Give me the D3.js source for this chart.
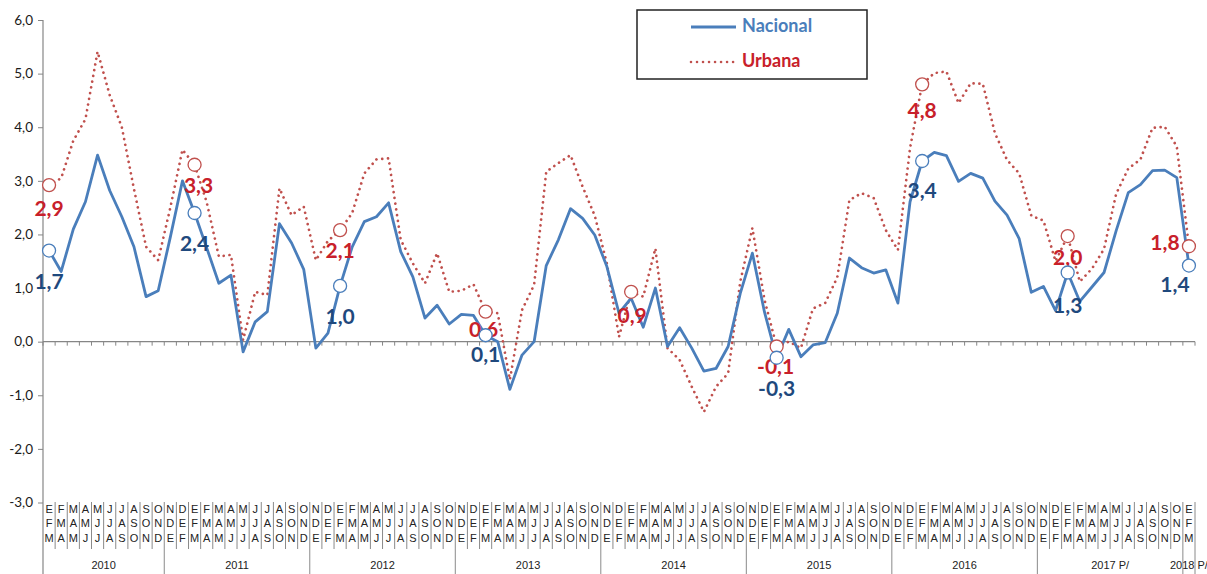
<!DOCTYPE html>
<html>
<head>
<meta charset="utf-8">
<script src="https://cdn.jsdelivr.net/npm/d3@7"></script>
<style>
  body { margin: 0; background: #fff; }
  svg { display: block; }
</style>
</head>
<body>
<svg id="chart" width="1207" height="574"></svg>
<script>
// moving quarters, one column each (2010 starts at EFM, 2018 P/ has EFM only)
var categories = [
  "EFM","FMA","MAM","AMJ","MJJ","JJA","JAS","ASO","SON","OND",
  "NDE","DEF","EFM","FMA","MAM","AMJ","MJJ","JJA","JAS","ASO","SON","OND",
  "NDE","DEF","EFM","FMA","MAM","AMJ","MJJ","JJA","JAS","ASO","SON","OND",
  "NDE","DEF","EFM","FMA","MAM","AMJ","MJJ","JJA","JAS","ASO","SON","OND",
  "NDE","DEF","EFM","FMA","MAM","AMJ","MJJ","JJA","JAS","ASO","SON","OND",
  "NDE","DEF","EFM","FMA","MAM","AMJ","MJJ","JJA","JAS","ASO","SON","OND",
  "NDE","DEF","EFM","FMA","MAM","AMJ","MJJ","JJA","JAS","ASO","SON","OND",
  "NDE","DEF","EFM","FMA","MAM","AMJ","MJJ","JJA","JAS","ASO","SON","OND",
  "EFM"
];
var years = ["2010", "2011", "2012", "2013", "2014", "2015", "2016", "2017 P/", "2018 P/"];
var yearSizes = [10, 12, 12, 12, 12, 12, 12, 12, 1];

var nacional = [
  1.70, 1.31, 2.10, 2.61, 3.48, 2.82, 2.33, 1.77, 0.84, 0.95,
  1.95, 3.00, 2.40, 1.75, 1.09, 1.24, -0.19, 0.37, 0.56, 2.20, 1.84, 1.35,
  -0.12, 0.16, 1.04, 1.77, 2.24, 2.33, 2.59, 1.68, 1.21, 0.44, 0.68, 0.33,
  0.51, 0.49, 0.12, 0.00, -0.89, -0.25, 0.00, 1.42, 1.90, 2.48, 2.30, 1.99,
  1.40, 0.53, 0.81, 0.27, 1.00, -0.09, 0.26, -0.12, -0.55, -0.50, -0.09, 0.90,
  1.65, 0.55, -0.30, 0.23, -0.28, -0.06, -0.02, 0.53, 1.56, 1.38, 1.28, 1.34,
  0.72, 2.61, 3.37, 3.53, 3.47, 2.99, 3.14, 3.05, 2.62, 2.36, 1.92, 0.92,
  1.03, 0.58, 1.29, 0.75, 1.02, 1.29, 2.07, 2.78, 2.93, 3.19, 3.20, 3.06,
  1.42
];
var urbana = [
  2.92, 3.05, 3.75, 4.15, 5.41, 4.60, 4.00, 2.85, 1.77, 1.52,
  2.50, 3.58, 3.30, 2.60, 1.59, 1.62, 0.03, 0.93, 0.87, 2.86, 2.36, 2.52,
  1.52, 1.88, 2.08, 2.40, 3.14, 3.40, 3.42, 1.90, 1.46, 1.09, 1.65, 0.93,
  0.95, 1.07, 0.56, 0.53, -0.71, 0.59, 1.06, 3.17, 3.33, 3.48, 2.89, 2.35,
  1.46, 0.09, 0.93, 0.84, 1.74, -0.12, -0.34, -0.84, -1.31, -0.84, -0.59, 1.12,
  2.12, 0.78, -0.09, 0.00, -0.12, 0.62, 0.72, 1.20, 2.64, 2.77, 2.68, 2.08,
  1.71, 3.61, 4.80, 5.01, 5.04, 4.45, 4.82, 4.81, 3.89, 3.39, 3.14, 2.35,
  2.26, 1.50, 1.97, 1.12, 1.36, 1.73, 2.76, 3.23, 3.40, 3.99, 4.01, 3.64,
  1.78
];
// columns that carry a circle and a value label
var nacionalMarks = [0, 12, 24, 36, 60, 72, 84, 94];
var urbanaMarks = [0, 12, 24, 36, 48, 60, 72, 84, 94];
var yTicks = [-3, -2, -1, 0, 1, 2, 3, 4, 5, 6];
var seriesNames = ["Nacional", "Urbana"];

var blue = "#4a7ebb", red = "#c0504d";
var blueText = "#1f497d", redText = "#c8202a";
// decimal comma and a plain hyphen for negatives, as in the source
var comma = function(v) { return d3.format(".1f")(v).replace(".", ",").replace("\u2212", "-"); };

var svg = d3.select("#chart");
// plot box (avoid "top", which is window.top)
var plotL = 43, plotR = 1195, plotT = 20, plotB = 502.5;

var x = d3.scaleBand().domain(d3.range(categories.length)).range([plotL, plotR]).paddingInner(0);
var y = d3.scaleLinear().domain([-3, 6]).range([plotB, plotT]);
var cx = function(i) { return x(i) + x.bandwidth() / 2; };

// y axis
var yAxis = svg.append("g")
  .attr("transform", "translate(" + plotL + ",0)")
  .call(d3.axisLeft(y).tickValues(yTicks).tickSize(5).tickSizeOuter(0).tickFormat(comma));
yAxis.select(".domain").remove();
yAxis.selectAll(".tick line").attr("stroke", "#868686");
yAxis.selectAll(".tick text")
  .attr("x", -10)
  .attr("fill", "#1a1a1a")
  .style("font-family", "Lato, 'Open Sans', sans-serif")
  .style("font-size", "13.5px");
svg.append("line")
  .attr("x1", plotL).attr("x2", plotL).attr("y1", plotT).attr("y2", 574)
  .attr("stroke", "#868686").attr("stroke-width", 1.2);

// category axis crossing at zero
var zero = svg.append("g").attr("transform", "translate(0," + y(0) + ")");
zero.append("line").attr("x1", plotL).attr("x2", plotR)
  .attr("stroke", "#868686").attr("stroke-width", 1.2);
zero.selectAll("line.tk")
  .data(d3.range(categories.length + 1))
  .enter().append("line")
    .attr("class", "tk")
    .attr("x1", function(i) { return plotL + i * x.bandwidth(); })
    .attr("x2", function(i) { return plotL + i * x.bandwidth(); })
    .attr("y1", 0).attr("y2", 4)
    .attr("stroke", "#868686");

// category label table at the bottom
var table = svg.append("g")
  .style("font-family", "'Liberation Sans', Arial, sans-serif")
  .style("font-size", "11px")
  .attr("fill", "#222");
var groupStarts = [0];
yearSizes.forEach(function(n, k) { groupStarts.push(groupStarts[k] + n); });
table.selectAll("line.col")
  .data(d3.range(1, categories.length + 1))
  .enter().append("line")
    .attr("class", "col")
    .attr("x1", function(i) { return plotL + i * x.bandwidth(); })
    .attr("x2", function(i) { return plotL + i * x.bandwidth(); })
    .attr("y1", 502)
    .attr("y2", function(i) { return groupStarts.indexOf(i) >= 0 ? 574 : 549; })
    .attr("stroke", "#8a8a8a");
categories.forEach(function(c, i) {
  for (var r = 0; r < 3; r++) {
    table.append("text")
      .attr("x", cx(i))
      .attr("y", 510 + r * 14.5)
      .attr("text-anchor", "middle")
      .attr("dominant-baseline", "middle")
      .text(c[r]);
  }
});
years.forEach(function(yr, k) {
  var a = groupStarts[k], b = groupStarts[k + 1] - 1;
  table.append("text")
    .attr("x", (cx(a) + cx(b)) / 2)
    .attr("y", 566)
    .attr("text-anchor", "middle")
    .attr("dominant-baseline", "middle")
    .text(yr);
});

// series
var line = d3.line()
  .x(function(d, i) { return cx(i); })
  .y(function(d) { return y(d); });

svg.append("path")
  .datum(urbana)
  .attr("fill", "none")
  .attr("stroke", red)
  .attr("stroke-width", 2.7)
  .attr("stroke-linecap", "round")
  .attr("stroke-dasharray", "0.01 5.8")
  .attr("d", line);

svg.append("path")
  .datum(nacional)
  .attr("fill", "none")
  .attr("stroke", blue)
  .attr("stroke-width", 2.8)
  .attr("stroke-linejoin", "round")
  .attr("d", line);

// circles and value labels
var redOffsets = { 0: [0, 25], 12: [4, 23], 24: [0, 22], 36: [-2, 20], 48: [1, 26],
  60: [-1, 22], 72: [0, 28], 84: [0, 24], 94: [-24, -2] };
var blueOffsets = { 0: [0, 33], 12: [0, 33], 24: [0, 33], 36: [0, 21],
  60: [0, 33], 72: [0, 32], 84: [0, 35], 94: [-14, 21] };

function marks(values, idx, stroke, textColor, offsets) {
  var g = svg.append("g");
  g.selectAll("circle")
    .data(idx)
    .enter().append("circle")
      .attr("cx", function(i) { return cx(i); })
      .attr("cy", function(i) { return y(values[i]); })
      .attr("r", 6.5)
      .attr("fill", "#fff")
      .attr("stroke", stroke)
      .attr("stroke-width", 1.3);
  g.selectAll("text")
    .data(idx)
    .enter().append("text")
      .attr("x", function(i) { return cx(i) + offsets[i][0]; })
      .attr("y", function(i) { return y(values[i]) + offsets[i][1]; })
      .attr("text-anchor", "middle")
      .attr("dominant-baseline", "middle")
      .attr("fill", textColor)
      .style("font-family", "Lato, 'Open Sans', sans-serif")
      .style("font-weight", "bold")
      .style("font-size", "21px")
      .text(function(i) { return comma(values[i]); });
}
marks(urbana, urbanaMarks, red, redText, redOffsets);
marks(nacional, nacionalMarks, blue, blueText, blueOffsets);

// legend
var legend = svg.append("g");
legend.append("rect")
  .attr("x", 637).attr("y", 10).attr("width", 230).attr("height", 69)
  .attr("fill", "#fff").attr("stroke", "#222").attr("stroke-width", 1.5);
var legendRows = legend.selectAll("g.row")
  .data(seriesNames)
  .enter().append("g")
    .attr("class", "row")
    .attr("transform", function(d, i) { return "translate(0," + (27 + i * 35) + ")"; });
legendRows.append("line")
  .attr("x1", 691).attr("x2", 736)
  .attr("stroke", function(d, i) { return i === 0 ? blue : red; })
  .attr("stroke-width", function(d, i) { return i === 0 ? 2.8 : 2.6; })
  .attr("stroke-linecap", function(d, i) { return i === 0 ? "butt" : "round"; })
  .attr("stroke-dasharray", function(d, i) { return i === 0 ? null : "0.01 6"; });
legendRows.append("text")
  .attr("x", 742)
  .attr("dominant-baseline", "middle")
  .attr("fill", function(d, i) { return i === 0 ? blue : redText; })
  .style("font-family", "Lato, 'Open Sans', sans-serif")
  .style("font-weight", "bold")
  .style("font-size", "18px")
  .text(function(d) { return d; });
</script>
</body>
</html>
